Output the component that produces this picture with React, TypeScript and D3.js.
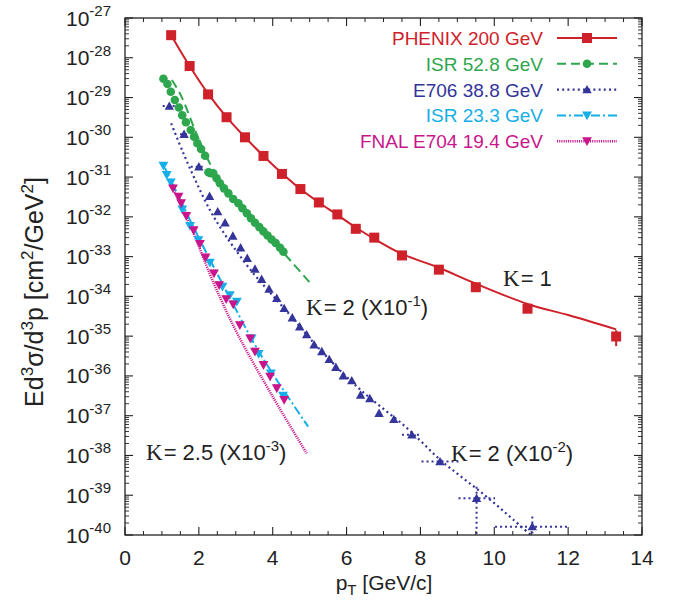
import React from 'react';
import * as d3 from 'd3';

// ---- PHENIX 200 GeV (K = 1) ----
const phenixPt = [1.25, 1.75, 2.25, 2.75, 3.25, 3.75, 4.25, 4.75, 5.25, 5.75, 6.25, 6.75, 7.5, 8.5, 9.5, 10.9, 13.3];
const phenixXs = [3.7e-28, 6.2e-29, 1.2e-29, 3.2e-30, 1.0e-30, 3.4e-31, 1.2e-31, 5.0e-32, 2.3e-32, 1.15e-32, 5.0e-33, 3.0e-33, 1.07e-33, 4.7e-34, 1.7e-34, 4.9e-35, 9.8e-36];
const phenixErrIdx = [16];
const phenixErrLo = [5.6e-36];
const phenixErrHi = [1.41e-35];
const phenixFitPt = [1.25, 1.75, 2.25, 2.75, 3.25, 3.75, 4.25, 4.75, 5.25, 5.75, 6.25, 6.75, 7.5, 8.5, 9.5, 10.9, 12, 13.3];
const phenixFitXs = [3.7e-28, 6.2e-29, 1.25e-29, 3.2e-30, 1.0e-30, 3.4e-31, 1.25e-31, 5.0e-32, 2.3e-32, 1.12e-32, 5.4e-33, 2.8e-33, 1.17e-33, 5.25e-34, 2.09e-34, 6.46e-35, 3.39e-35, 1.48e-35];

// ---- ISR 52.8 GeV (K = 2, x10^-1) ----
const isr53Pt = [1.04, 1.15, 1.24, 1.35, 1.46, 1.55, 1.65, 1.78, 1.87, 1.96, 2.06, 2.17, 2.26, 2.32, 2.39, 2.48, 2.57, 2.68, 2.80, 2.93, 3.07, 3.18, 3.30, 3.41, 3.52, 3.64, 3.75, 3.86, 3.97, 4.08, 4.20, 4.29];
const isr53Xs = [2.98e-29, 2.19e-29, 1.40e-29, 8.7e-30, 5.6e-30, 3.6e-30, 2.4e-30, 1.53e-30, 1.03e-30, 7.1e-31, 5.1e-31, 3.45e-31, 1.32e-31, 1.26e-31, 1.24e-31, 9.3e-32, 7.0e-32, 5.2e-32, 3.9e-32, 2.8e-32, 2.2e-32, 1.64e-32, 1.23e-32, 9.2e-33, 7.1e-33, 5.5e-33, 4.3e-33, 3.4e-33, 2.7e-33, 2.2e-33, 1.67e-33, 1.33e-33];
const isr53FitPt = [1.27, 1.52, 2.0, 2.5, 3.0, 3.5, 4.0, 4.5, 5.01];
const isr53FitXs = [2.75e-29, 1.10e-29, 8.9e-31, 1.0e-31, 2.5e-32, 7.6e-33, 2.5e-33, 7.6e-34, 2.2e-34];

// ---- E706 38.8 GeV (K = 2, x10^-2) ----
const e706Pt = [1.20, 1.60, 2.00, 2.29, 2.51, 2.71, 2.92, 3.13, 3.31, 3.52, 3.70, 3.90, 4.11, 4.31, 4.53, 4.73, 4.92, 5.12, 5.33, 5.53, 5.71, 5.91, 6.14, 6.38, 6.63, 6.88, 7.28, 7.77, 8.53, 9.52, 11.03];
const e706Xs = [6.1e-30, 1.19e-30, 1.82e-31, 3.3e-32, 1.35e-32, 7.1e-33, 3.3e-33, 1.67e-33, 9.1e-34, 4.9e-34, 2.7e-34, 1.53e-34, 9.0e-35, 5.0e-35, 2.9e-35, 1.73e-35, 1.09e-35, 6.1e-36, 4.1e-36, 2.6e-36, 1.65e-36, 1.01e-36, 7.6e-37, 3.3e-37, 2.7e-37, 1.15e-37, 8.1e-38, 3.3e-38, 7.0e-39, 8.4e-40, 1.62e-40];
const e706BinIdx = [0, 1, 2, 27, 28, 29, 30];
const e706BinLo = [1.02, 1.49, 1.78, 7.5, 8.03, 9.03, 10.02];
const e706BinHi = [1.38, 1.76, 2.12, 8.03, 9.03, 10.02, 12.05];
const e706ErrIdx = [29, 30];
const e706ErrLo = [1e-41, 1e-41];
const e706ErrHi = [1.64e-39, 2.9e-40];
const e706FitPt = [1.25, 1.58, 1.94, 2.30, 2.57, 2.93, 3.5, 4.0, 4.5, 5.0, 5.5, 6.0, 6.5, 7.0, 7.5, 8.0, 8.5, 9.0, 9.5, 10.0, 10.5, 11.05];
const e706FitXs = [2.24e-30, 3.98e-31, 7.1e-32, 1.48e-32, 5.6e-33, 1.78e-33, 3.55e-34, 1.05e-34, 3.16e-35, 8.9e-36, 2.8e-36, 9.5e-37, 3.55e-37, 1.48e-37, 6.3e-38, 2.34e-38, 8.3e-39, 3.47e-39, 1.51e-39, 6.3e-40, 2.5e-40, 8.9e-41];

// ---- ISR 23.3 GeV (K = 2.5, x10^-3) ----
const isr23Pt = [1.04, 1.13, 1.24, 1.55, 1.76, 1.99, 2.30, 2.64, 2.84, 3.03, 3.43, 3.62, 3.95, 4.28];
const isr23Xs = [1.93e-31, 1.13e-31, 7.4e-32, 1.55e-32, 5.9e-33, 2.6e-33, 7.1e-34, 1.75e-34, 1.08e-34, 7.4e-35, 8.8e-36, 3.6e-36, 1.15e-36, 3.2e-37];
const isr23FitPt = [1.08, 2.03, 2.80, 3.52, 4.11, 4.96];
const isr23FitXs = [1.69e-31, 2.6e-33, 1.08e-34, 6.0e-36, 7.9e-37, 5.3e-38];

// ---- FNAL E704 19.4 GeV (K = 2.5, x10^-3) ----
const e704Pt = [1.30, 1.45, 1.52, 1.66, 1.86, 2.03, 2.18, 2.41, 2.55, 2.74, 2.93, 3.11, 3.39, 3.52, 3.75, 3.93, 4.11, 4.31];
const e704Xs = [5.2e-32, 3.2e-32, 2.2e-32, 1.05e-32, 4.6e-33, 2.1e-33, 9.5e-34, 3.8e-34, 1.93e-34, 8.5e-35, 6.3e-35, 1.9e-35, 8.8e-36, 4.1e-36, 1.88e-36, 9.6e-37, 4.9e-37, 2.5e-37];
const e704HalfBin = 0.08;
const e704FitPt = [1.27, 1.76, 2.44, 3.04, 4.02, 4.92];
const e704FitXs = [6.0e-32, 6.3e-33, 1.78e-34, 1.17e-35, 2.8e-37, 1.13e-38];

// ---- axes ----
const xTicks = [0, 2, 4, 6, 8, 10, 12, 14];
const yExponents = [-27, -28, -29, -30, -31, -32, -33, -34, -35, -36, -37, -38, -39, -40];

const legendLabels = ['PHENIX 200 GeV', 'ISR 52.8 GeV', 'E706 38.8 GeV', 'ISR 23.3 GeV', 'FNAL E704 19.4 GeV'];

const RED = '#cf2129';
const GREEN = '#2ea64e';
const NAVY = '#34349a';
const CYAN = '#15aee8';
const MAGENTA = '#c8158b';

const SANS = '"Liberation Sans", Arial, Helvetica, sans-serif';
const SERIF = '"Liberation Serif", "Times New Roman", serif';

type MarkerKind = 'square' | 'circle' | 'up' | 'down';

function Marker({ kind, cx, cy, color }: { kind: MarkerKind; cx: number; cy: number; color: string }) {
  if (kind === 'square') return <rect x={cx - 5} y={cy - 5} width={10} height={10} fill={color} />;
  if (kind === 'circle') return <circle cx={cx} cy={cy} r={4.3} fill={color} />;
  if (kind === 'up')
    return <polygon points={`${cx - 4.7},${cy + 3.7} ${cx + 4.7},${cy + 3.7} ${cx},${cy - 4.7}`} fill={color} />;
  return <polygon points={`${cx - 4.9},${cy - 3.9} ${cx + 4.9},${cy - 3.9} ${cx},${cy + 4.9}`} fill={color} />;
}

export default function App() {
  const left = 125, right = 642, top = 18, bottom = 535;
  const x = d3.scaleLinear().domain([0, 14]).range([left, right]);
  const y = d3.scaleLog().domain([1e-27, 1e-40]).range([top, bottom]);

  const line = d3
    .line<[number, number]>()
    .x((d) => x(d[0]))
    .y((d) => y(d[1]))
    .curve(d3.curveCatmullRom.alpha(0.5));

  const zip = (a: number[], b: number[]) => a.map((v, i) => [v, b[i]] as [number, number]);

  const styles = {
    phenix: { stroke: RED, width: 2, dash: undefined as string | undefined },
    isr53: { stroke: GREEN, width: 2, dash: '9,5' },
    e706: { stroke: NAVY, width: 2.2, dash: '2,3.2' },
    isr23: { stroke: CYAN, width: 2, dash: '9,3,2,3' },
    e704: { stroke: MAGENTA, width: 2.6, dash: '1.1,1.1' },
  };
  const legendStyles = [
    { ...styles.phenix, kind: 'square' as MarkerKind },
    { ...styles.isr53, kind: 'circle' as MarkerKind },
    { ...styles.e706, kind: 'up' as MarkerKind },
    { ...styles.isr23, kind: 'down' as MarkerKind },
    { ...styles.e704, kind: 'down' as MarkerKind },
  ];

  // minor ticks
  const xMinor = d3.range(0, 14.01, 0.5).filter((v) => Math.abs(v / 2 - Math.round(v / 2)) > 1e-6);
  const yMinor: number[] = [];
  for (let e = -40; e < -27; e++) for (let m = 2; m <= 9; m++) yMinor.push(m * Math.pow(10, e));

  const fitPath = (pt: number[], xs: number[], s: { stroke: string; width: number; dash?: string }) => (
    <path d={line(zip(pt, xs)) || ''} fill="none" stroke={s.stroke} strokeWidth={s.width} strokeDasharray={s.dash} />
  );

  const kText = (xp: number, yp: number, rest: string, exp?: string) => (
    <text x={xp} y={yp} fontSize={22} fill="#222">
      <tspan fontFamily={SERIF} fontSize={23}>K</tspan>
      <tspan dx={1}>{rest}</tspan>
      {exp && (
        <>
          <tspan dy={-9} fontSize={15}>{exp}</tspan>
          <tspan dy={9}>)</tspan>
        </>
      )}
    </text>
  );

  return (
    <svg width={683} height={603} style={{ position: 'absolute', left: 0, top: 0, background: '#fff' }} fontFamily={SANS}>
      <defs>
        <clipPath id="plotArea">
          <rect x={left} y={top} width={right - left} height={bottom - top} />
        </clipPath>
      </defs>

      <g clipPath="url(#plotArea)">
        {/* fitted curves */}
        {fitPath(e704FitPt, e704FitXs, styles.e704)}
        {fitPath(isr23FitPt, isr23FitXs, styles.isr23)}
        {fitPath(e706FitPt, e706FitXs, styles.e706)}
        {fitPath(isr53FitPt, isr53FitXs, styles.isr53)}
        {fitPath(phenixFitPt, phenixFitXs, styles.phenix)}

        {/* E706 bin widths and error bars */}
        {e706BinIdx.map((idx, k) => (
          <line key={`eb${k}`} x1={x(e706BinLo[k])} x2={x(e706BinHi[k])} y1={y(e706Xs[idx])} y2={y(e706Xs[idx])}
            stroke={NAVY} strokeWidth={2} strokeDasharray="2,3" />
        ))}
        {e706ErrIdx.map((idx, k) => (
          <line key={`ee${k}`} x1={x(e706Pt[idx])} x2={x(e706Pt[idx])} y1={y(e706ErrHi[k])} y2={y(e706ErrLo[k])}
            stroke={NAVY} strokeWidth={2} strokeDasharray="2,3" />
        ))}
        {/* E704 bin widths */}
        {e704Pt.map((p, i) => (
          <line key={`mb${i}`} x1={x(p - e704HalfBin)} x2={x(p + e704HalfBin)} y1={y(e704Xs[i]) - 3} y2={y(e704Xs[i]) - 3}
            stroke={MAGENTA} strokeWidth={1.5} strokeDasharray="1,1" />
        ))}
        {/* PHENIX error bars */}
        {phenixErrIdx.map((idx, k) => (
          <line key={`pe${k}`} x1={x(phenixPt[idx])} x2={x(phenixPt[idx])} y1={y(phenixErrHi[k])} y2={y(phenixErrLo[k])}
            stroke={RED} strokeWidth={2} />
        ))}

        {/* data points */}
        {e706Pt.map((p, i) => <Marker key={`e6${i}`} kind="up" cx={x(p)} cy={y(e706Xs[i])} color={NAVY} />)}
        {isr23Pt.map((p, i) => <Marker key={`i2${i}`} kind="down" cx={x(p)} cy={y(isr23Xs[i])} color={CYAN} />)}
        {e704Pt.map((p, i) => <Marker key={`e4${i}`} kind="down" cx={x(p)} cy={y(e704Xs[i])} color={MAGENTA} />)}
        {isr53Pt.map((p, i) => <Marker key={`i5${i}`} kind="circle" cx={x(p)} cy={y(isr53Xs[i])} color={GREEN} />)}
        {phenixPt.map((p, i) => <Marker key={`ph${i}`} kind="square" cx={x(p)} cy={y(phenixXs[i])} color={RED} />)}
      </g>

      {/* frame and ticks */}
      <rect x={left} y={top} width={right - left} height={bottom - top} fill="none" stroke="#222" strokeWidth={1.3} />
      {xTicks.map((t) => (
        <g key={`xt${t}`} stroke="#222" strokeWidth={1.1}>
          <line x1={x(t)} x2={x(t)} y1={bottom} y2={bottom - 8} />
          <line x1={x(t)} x2={x(t)} y1={top} y2={top + 8} />
        </g>
      ))}
      {xMinor.map((t) => (
        <g key={`xm${t}`} stroke="#222" strokeWidth={1}>
          <line x1={x(t)} x2={x(t)} y1={bottom} y2={bottom - 4} />
          <line x1={x(t)} x2={x(t)} y1={top} y2={top + 4} />
        </g>
      ))}
      {yExponents.map((e) => (
        <g key={`yt${e}`} stroke="#222" strokeWidth={1.1}>
          <line x1={left} x2={left + 8} y1={y(Math.pow(10, e))} y2={y(Math.pow(10, e))} />
          <line x1={right} x2={right - 8} y1={y(Math.pow(10, e))} y2={y(Math.pow(10, e))} />
        </g>
      ))}
      {yMinor.map((v, i) => (
        <g key={`ym${i}`} stroke="#222" strokeWidth={0.9}>
          <line x1={left} x2={left + 4} y1={y(v)} y2={y(v)} />
          <line x1={right} x2={right - 4} y1={y(v)} y2={y(v)} />
        </g>
      ))}

      {/* tick labels */}
      {xTicks.map((t) => (
        <text key={`xl${t}`} x={x(t)} y={565} fontSize={21} textAnchor="middle" fill="#222">{t}</text>
      ))}
      {yExponents.map((e) => (
        <text key={`yl${e}`} x={111} y={y(Math.pow(10, e)) + 7.5} fontSize={21} textAnchor="end" fill="#222">
          10<tspan dy={-9.5} fontSize={15}>{e}</tspan>
        </text>
      ))}

      {/* axis titles */}
      <text x={384} y={590} fontSize={21} textAnchor="middle" fill="#222">
        p<tspan dy={5} fontSize={15}>T</tspan><tspan dy={-5}> [GeV/c]</tspan>
      </text>
      <text transform="translate(43,292) rotate(-90)" fontSize={25} textAnchor="middle" fill="#222">
        Ed<tspan dy={-10} fontSize={17}>3</tspan><tspan dy={10}>σ/d</tspan><tspan dy={-10} fontSize={17}>3</tspan>
        <tspan dy={10}>p [cm</tspan><tspan dy={-10} fontSize={17}>2</tspan><tspan dy={10}>/GeV</tspan>
        <tspan dy={-10} fontSize={17}>2</tspan><tspan dy={10}>]</tspan>
      </text>

      {/* legend */}
      {legendLabels.map((lab, i) => {
        const base = 45 + i * 25.8;
        const cy = base - 7;
        const s = legendStyles[i];
        return (
          <g key={`lg${i}`}>
            <text x={543} y={base} fontSize={19} textAnchor="end" fill={s.stroke}>{lab}</text>
            <line x1={557} x2={617} y1={cy} y2={cy} stroke={s.stroke} strokeWidth={s.width} strokeDasharray={s.dash} />
            <Marker kind={s.kind} cx={587} cy={cy} color={s.stroke} />
          </g>
        );
      })}

      {/* scale annotations */}
      {kText(503, 286, '= 1')}
      {kText(306, 315, '= 2 (X10', '-1')}
      {kText(146, 460, '= 2.5 (X10', '-3')}
      {kText(451, 461, '= 2 (X10', '-2')}
    </svg>
  );
}
